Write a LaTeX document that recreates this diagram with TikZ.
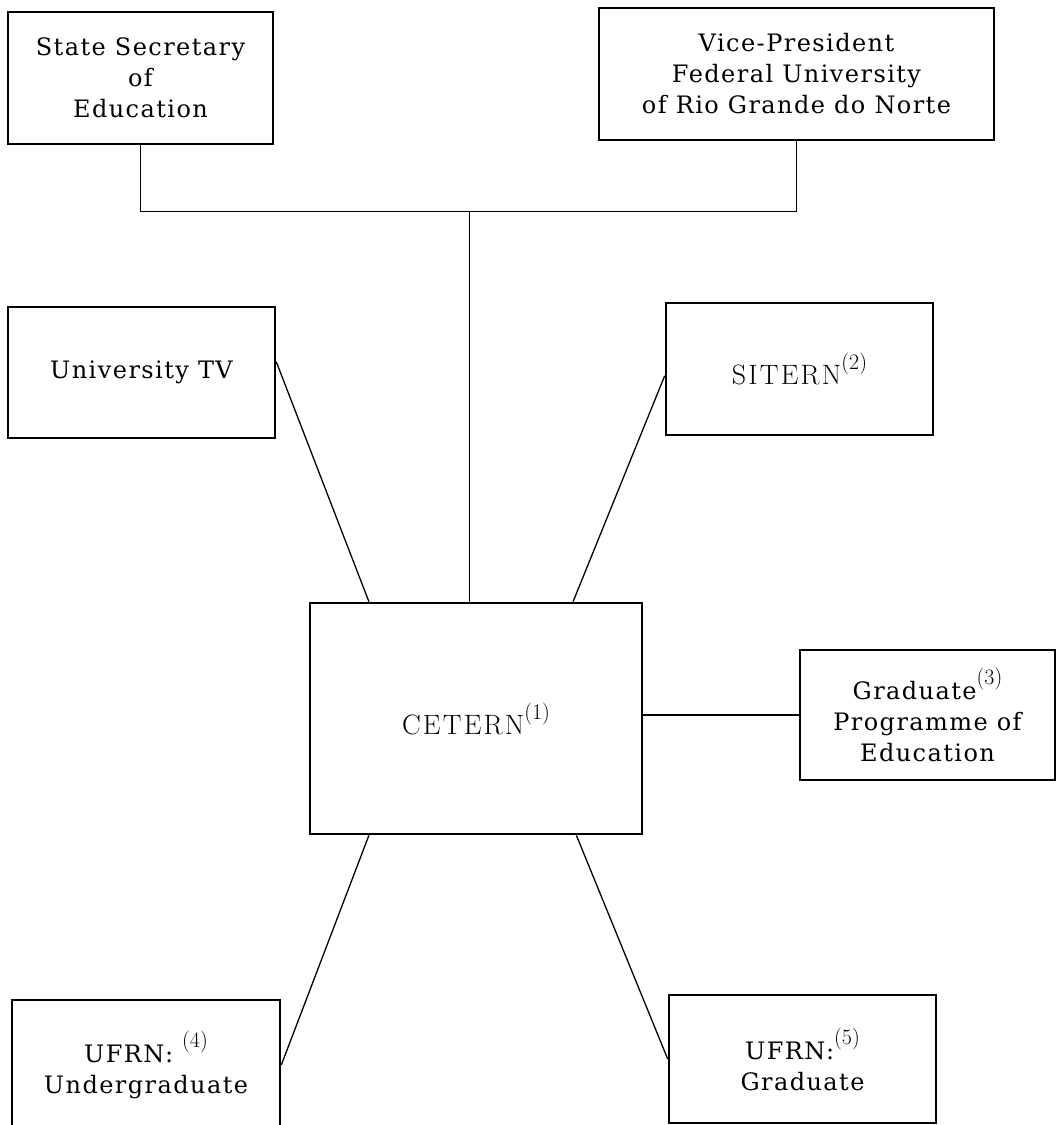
\documentclass[tikz,border=0pt]{standalone}
\usepackage{fontspec}
\setmainfont{DejaVu Serif}[LetterSpace=6]
\newfontfamily\cmfont{Latin Modern Roman}[LetterSpace=8]
\newfontfamily\cmsupfont{Latin Modern Roman}
\newcommand{\supnum}[1]{\raisebox{15pt}{\cmsupfont\fontsize{22}{22}\selectfont(#1)}}
\usetikzlibrary{calc}
\begin{document}
\begin{tikzpicture}[x=1pt,y=-1pt,
  box/.style={draw, line width=2.6pt, inner sep=0pt, align=center,
    font=\fontsize{24}{31}\selectfont},
  cmbox/.style={box, font=\cmfont\fontsize{28}{32}\selectfont},
  conn/.style={line width=1.3pt}]
\useasboundingbox (0,0) rectangle (1057,1125);
\node[box, minimum width=265pt, minimum height=132pt] (ss) at (140.5,78) {State Secretary\\of\\Education};
\node[box, minimum width=395pt, minimum height=132pt] (vp) at (796.5,74) {Vice-President\\Federal University\\of Rio Grande do Norte};
\node[box, minimum width=267pt, minimum height=131pt] (tv) at (141.5,372.5) {University TV};
\node[cmbox, minimum width=267pt, minimum height=132pt] (sit) at (799.5,369) {SITERN\supnum{2}};
\node[cmbox, minimum width=332pt, minimum height=231pt] (cet) at (476,718.5) {CETERN\supnum{1}};
\node[box, minimum width=255pt, minimum height=130pt] (grad) at (927.5,715) {Graduate\supnum{3}\\Programme of\\Education};
\node[box, minimum width=268pt, minimum height=130pt] (ua) at (146,1065) {UFRN: \supnum{4}\\Undergraduate};
\node[box, minimum width=267pt, minimum height=128pt] (ub) at (802.5,1059) {UFRN:\supnum{5}\\Graduate};
\coordinate (j) at ($(cet.north west)!0.48!(cet.north east)$);
\draw[conn] (ss.south) -- ++(0,66) -| (vp.south);
\draw[conn] (j) -- (j |- {$(ss.south)+(0,66)$});
\draw[conn] ($(tv.north east)!0.42!(tv.south east)$) -- ($(cet.north west)!0.18!(cet.north east)$);
\draw[conn] ($(sit.north west)!0.55!(sit.south west)$) -- ($(cet.north west)!0.79!(cet.north east)$);
\draw[conn] (cet.east |- grad.west) -- (grad.west);
\draw[conn] ($(cet.south west)!0.18!(cet.south east)$) -- (ua.east);
\draw[conn] ($(cet.south west)!0.80!(cet.south east)$) -- (ub.west);
\end{tikzpicture}
\end{document}
